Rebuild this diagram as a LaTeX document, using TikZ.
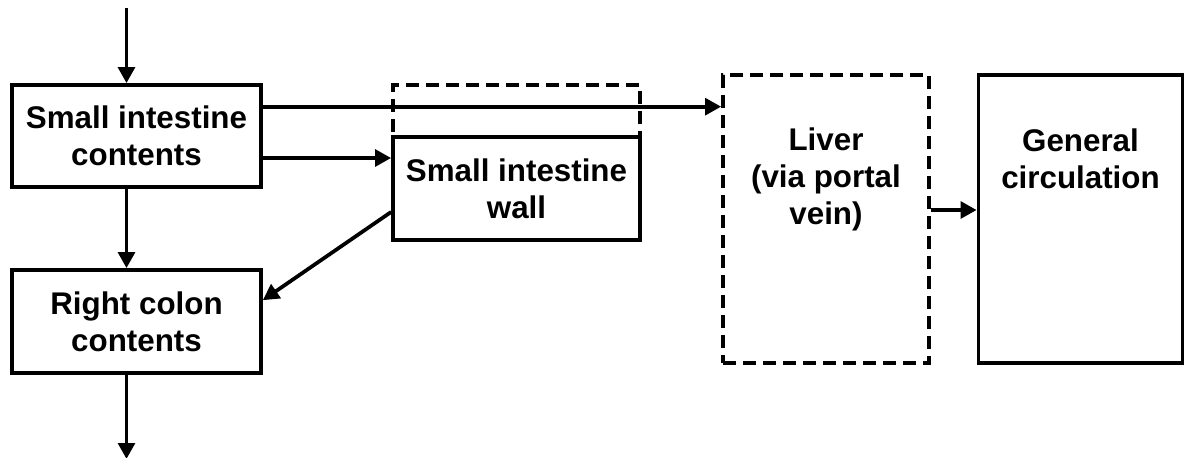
\documentclass[tikz,border=0pt]{standalone}
\usepackage{fontspec}
\setmainfont{Liberation Sans}
\usetikzlibrary{arrows.meta}

\tikzset{
  box/.style={draw, line width=2.8pt, inner sep=0pt, align=center,
    font=\fontsize{23.5}{27.8}\selectfont\bfseries},
  dashbox/.style={box, dash pattern=on 10pt off 5pt},
  flow/.style={line width=2.8pt, -{Triangle[length=12pt,width=12.5pt]}},
}

\begin{document}
\begin{tikzpicture}[x=0.75pt,y=0.75pt,yscale=-1,xscale=1]
  \useasboundingbox (0,0) rectangle (1184,457);

  % boxes
  \node[box, minimum width=249*0.75pt, minimum height=102*0.75pt] (sic) at (136.5,136) {Small intestine\\contents};
  \node[box, minimum width=249*0.75pt, minimum height=103*0.75pt] (rcc) at (136.5,321.5) {Right colon\\contents};
  \node[dashbox, minimum width=247*0.75pt, minimum height=52*0.75pt] (walltop) at (516.5,111) {};
  \node[box, minimum width=247*0.75pt, minimum height=103*0.75pt] (wall) at (516.5,188.5) {Small intestine\\wall};
  \node[dashbox, minimum width=206*0.75pt, minimum height=288*0.75pt] (liver) at (826,219) {};
  \node[box, minimum width=204*0.75pt, minimum height=288*0.75pt] (gen) at (1080.5,219) {};

  % texts at the top of the tall boxes
  \node[box, draw=none] (livertxt) at (826,179) {Liver\\(via portal\\vein)};
  \node[box, draw=none] (gentxt) at (1080.5,159) {General\\circulation};

  % free ends
  \coordinate (in) at (126.5,8);
  \coordinate (out) at (126.5,459);

  % arrows (yshift is flipped by yscale=-1)
  \draw[flow] (in) -- (in |- sic.north);
  \draw[flow] (sic.south -| in) -- (rcc.north -| in);
  \draw[flow] (rcc.south -| in) -- (out);
  \draw[flow] ([yshift=-22pt]sic.east) -- ([yshift=-22pt]sic.east -| liver.west);
  \draw[flow] ([yshift=16.5pt]sic.east) -- ([yshift=16.5pt]sic.east -| wall.west);
  \draw[flow] ([yshift=17.6pt]wall.west) -- ([yshift=-16pt]rcc.east);
  \draw[flow] ([yshift=-6.75pt]liver.east) -- ([yshift=-6.75pt]liver.east -| gen.west);
\end{tikzpicture}
\end{document}
